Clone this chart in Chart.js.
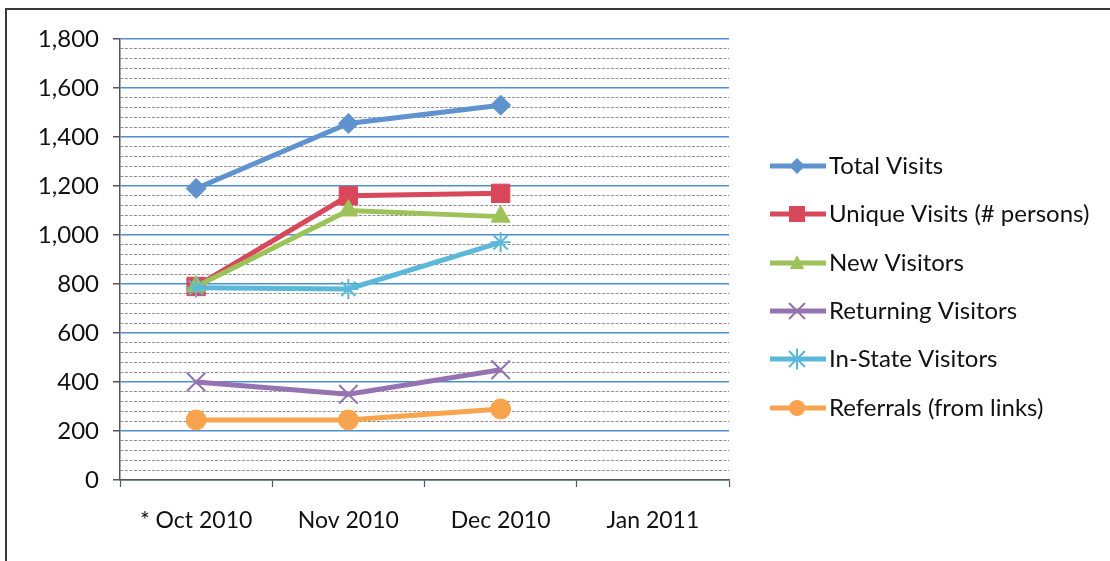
<!DOCTYPE html>
<html>
<head>
<meta charset="utf-8">
<script src="https://cdn.jsdelivr.net/npm/chart.js@4"></script>
<style>
  html, body { margin: 0; padding: 0; background: #fff; }
  #wrap { width: 1110px; height: 561px; position: relative; }
</style>
</head>
<body>
<div id="wrap"><canvas id="c" width="1110" height="561"></canvas></div>
<script>
const categories = ['* Oct 2010', 'Nov 2010', 'Dec 2010', 'Jan 2011'];
const seriesNames = ['Total Visits', 'Unique Visits (# persons)', 'New Visitors', 'Returning Visitors', 'In-State Visitors', 'Referrals (from links)'];
const totalVisits = [1190, 1455, 1530, null];
const uniqueVisits = [790, 1160, 1170, null];
const newVisitors = [790, 1100, 1075, null];
const returningVisitors = [400, 350, 450, null];
const inStateVisitors = [785, 780, 970, null];
const referrals = [245, 245, 290, null];
const yMin = 0, yMax = 1800, yMajorStep = 200, yMinorStep = 40;

const colors = ['#5f92cf', '#d9485a', '#9ec25a', '#9573b0', '#5cb8d8', '#f8a44e'];
const styles = ['rectRot', 'rect', 'triangle', 'crossRot', 'star', 'circle'];
const radii = [10, 13, 11, 13, 10, 10];
const allData = [totalVisits, uniqueVisits, newVisitors, returningVisitors, inStateVisitors, referrals];

const FONT = 'Lato, "Open Sans", sans-serif';
const TEXT = '#111';

const datasets = allData.map((d, i) => ({
  label: seriesNames[i],
  data: d,
  borderColor: colors[i],
  backgroundColor: colors[i],
  borderWidth: 5,
  pointStyle: styles[i],
  pointRadius: radii[i],
  pointBorderWidth: (styles[i] === 'crossRot' || styles[i] === 'star') ? 2 : 1,
  pointBackgroundColor: colors[i],
  pointBorderColor: colors[i],
  tension: 0,
  order: 10 - i,
  spanGaps: false
}));

function drawMarker(ctx, style, x, y, r, color) {
  ctx.save();
  ctx.fillStyle = color; ctx.strokeStyle = color; ctx.lineWidth = 2;
  ctx.beginPath();
  if (style === 'rectRot') {
    ctx.moveTo(x, y - r); ctx.lineTo(x + r, y); ctx.lineTo(x, y + r); ctx.lineTo(x - r, y); ctx.closePath(); ctx.fill();
  } else if (style === 'rect') {
    ctx.rect(x - r, y - r, 2 * r, 2 * r); ctx.fill();
  } else if (style === 'triangle') {
    ctx.moveTo(x, y - r); ctx.lineTo(x + r * 0.9, y + r * 0.75); ctx.lineTo(x - r * 0.9, y + r * 0.75); ctx.closePath(); ctx.fill();
  } else if (style === 'crossRot') {
    ctx.moveTo(x - r, y - r); ctx.lineTo(x + r, y + r); ctx.moveTo(x + r, y - r); ctx.lineTo(x - r, y + r); ctx.stroke();
  } else if (style === 'star') {
    ctx.moveTo(x - r, y - r); ctx.lineTo(x + r, y + r); ctx.moveTo(x + r, y - r); ctx.lineTo(x - r, y + r);
    ctx.moveTo(x, y - r * 1.3); ctx.lineTo(x, y + r * 1.3); ctx.stroke();
  } else if (style === 'circle') {
    ctx.arc(x, y, r, 0, Math.PI * 2); ctx.fill();
  }
  ctx.restore();
}

const framePlugin = {
  id: 'frame',
  beforeDraw(chart) {
    const ctx = chart.ctx;
    ctx.save();
    ctx.fillStyle = '#fff';
    ctx.fillRect(0, 0, chart.width, chart.height);
    ctx.strokeStyle = '#3a3a3a';
    ctx.lineWidth = 2;
    ctx.beginPath();
    ctx.moveTo(6, 561); ctx.lineTo(6, 9); ctx.lineTo(1110, 9);
    ctx.stroke();
    ctx.restore();
  }
};

const legendPlugin = {
  id: 'customLegend',
  afterDraw(chart) {
    const ctx = chart.ctx;
    const rowY = [166, 214, 263, 311, 359, 408];
    ctx.save();
    seriesNames.forEach((name, i) => {
      const y = rowY[i];
      ctx.strokeStyle = colors[i];
      ctx.lineWidth = 5;
      ctx.beginPath(); ctx.moveTo(770, y); ctx.lineTo(826, y); ctx.stroke();
      drawMarker(ctx, styles[i], 797, y, 8, colors[i]);
      ctx.fillStyle = TEXT;
      ctx.font = '24px ' + FONT;
      ctx.textBaseline = 'middle';
      ctx.textAlign = 'left';
      ctx.fillText(name, 829, y);
    });
    ctx.restore();
  }
};

new Chart(document.getElementById('c'), {
  type: 'line',
  data: { labels: categories, datasets },
  options: {
    responsive: false,
    animation: false,
    events: [],
    layout: { padding: { left: 0, right: 381, top: 39, bottom: 0 } },
    plugins: { legend: { display: false }, tooltip: { enabled: false } },
    scales: {
      x: {
        type: 'category',
        offset: true,
        afterFit(s) { s.height = 81; },
        grid: { offset: true, drawOnChartArea: false, drawTicks: true, tickLength: 7, tickColor: '#555', tickWidth: 1.2 },
        border: { display: true, color: '#555', width: 1.5 },
        ticks: { color: TEXT, font: { family: FONT, size: 23 }, padding: 20, maxRotation: 0, autoSkip: false }
      },
      y: {
        min: yMin, max: yMax,
        afterFit(s) { s.width = 120; },
        ticks: {
          stepSize: yMinorStep,
          autoSkip: false,
          color: TEXT,
          font: { family: FONT, size: 24 },
          padding: 14,
          callback: (v) => (v % yMajorStep === 0 ? v.toLocaleString('en-US') : '')
        },
        grid: {
          color: (c) => (c.tick && c.tick.value % yMajorStep === 0 ? '#4d90d2' : 'rgba(110,110,110,0.75)'),
          lineWidth: (c) => (c.tick && c.tick.value % yMajorStep === 0 ? 1.5 : 1),
          tickColor: (c) => (c.tick && c.tick.value % yMajorStep === 0 ? '#555' : 'rgba(0,0,0,0)'),
          tickLength: 7,
          drawTicks: true
        },
        border: {
          display: true, color: '#555', width: 1.5,
          dash: (c) => (c.tick && c.tick.value % yMajorStep === 0 ? [] : [3, 1.5])
        }
      }
    }
  },
  plugins: [framePlugin, legendPlugin]
});
</script>
</body>
</html>
